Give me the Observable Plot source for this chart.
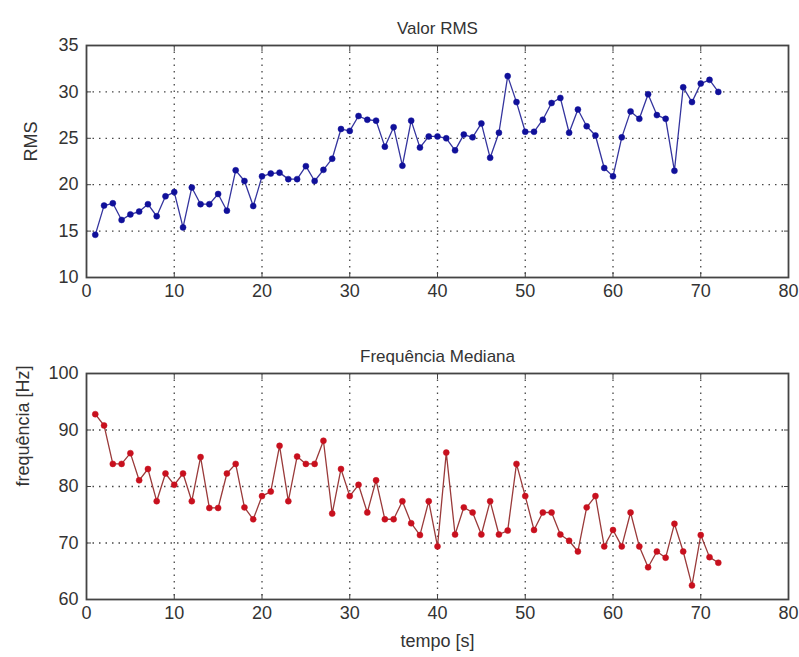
<!DOCTYPE html>
<html>
<head>
<meta charset="utf-8">
<script src="https://cdn.jsdelivr.net/npm/d3@7"></script>
<script src="https://cdn.jsdelivr.net/npm/@observablehq/plot@0.6"></script>
<style>
  html, body { margin: 0; padding: 0; background: #fff; }
  #wrap { position: relative; width: 799px; height: 657px; overflow: hidden; }
  #top, #bottom { position: absolute; left: 0; }
  #top { top: 0; }
  #bottom { top: 310px; }
  svg { font-family: "Liberation Sans", Arial, sans-serif; }
</style>
</head>
<body>
<div id="wrap"><div id="top"></div><div id="bottom"></div></div>
<script>
const tempo = d3.range(1, 73);
const rms = [
  14.6, 17.75, 18.0, 16.2, 16.8, 17.1, 17.9, 16.6, 18.75, 19.2,
  15.4, 19.7, 17.9, 17.9, 19.0, 17.2, 21.55, 20.4, 17.7, 20.9,
  21.2, 21.3, 20.6, 20.6, 22.0, 20.4, 21.6, 22.8, 26.0, 25.8,
  27.4, 27.0, 26.9, 24.1, 26.2, 22.05, 26.9, 24.0, 25.2, 25.2,
  25.0, 23.7, 25.4, 25.1, 26.6, 22.9, 25.6, 31.7, 28.9, 25.7,
  25.7, 27.0, 28.8, 29.35, 25.6, 28.1, 26.3, 25.3, 21.8, 20.9,
  25.1, 27.9, 27.1, 29.75, 27.5, 27.1, 21.5, 30.5, 28.9, 30.9,
  31.3, 30.0
];
const freq = [
  92.8, 90.8, 84.0, 84.0, 85.9, 81.1, 83.1, 77.4, 82.3, 80.3,
  82.3, 77.4, 85.2, 76.2, 76.2, 82.3, 84.0, 76.3, 74.2, 78.3,
  79.1, 87.2, 77.4, 85.3, 84.0, 84.0, 88.1, 75.2, 83.1, 78.3,
  80.3, 75.4, 81.1, 74.2, 74.2, 77.4, 73.5, 71.4, 77.4, 69.4,
  86.0, 71.5, 76.3, 75.4, 71.5, 77.4, 71.5, 72.2, 84.0, 78.3,
  72.3, 75.4, 75.4, 71.5, 70.4, 68.5, 76.3, 78.3, 69.4, 72.3,
  69.4, 75.4, 69.4, 65.7, 68.5, 67.4, 73.4, 68.5, 62.5, 71.4,
  67.5, 66.5
];
const xTicks = [0, 10, 20, 30, 40, 50, 60, 70, 80];
const rmsTicks = [10, 15, 20, 25, 30, 35];
const freqTicks = [60, 70, 80, 90, 100];

const titleTop = "Valor RMS";
const titleBottom = "Frequência Mediana";
const yLabelTop = "RMS";
const yLabelBottom = "frequência [Hz]";
const xLabel = "tempo [s]";

const rmsData = tempo.map((t, i) => ({t, v: rms[i]}));
const freqData = tempo.map((t, i) => ({t, v: freq[i]}));

const FS = 18;
const textColor = "#333";
const gridStyle = {stroke: "#333", strokeOpacity: 0.9, strokeDasharray: "1.5,5", strokeWidth: 1.3};

function panel({data, yDomain, yTicks, title, ylabel, xlabel, height, marginTop, marginBottom, lineColor, dotColor, ylabelX}) {
  const marks = [
    Plot.gridX(xTicks.slice(1, -1), gridStyle),
    Plot.gridY(yTicks.slice(1, -1), gridStyle),
    Plot.axisX(xTicks, {anchor: "bottom", tickSize: -5, tickPadding: 12, label: null, fontSize: FS, fill: textColor, stroke: "#444"}),
    Plot.axisX(xTicks, {anchor: "top", tickSize: -5, tickFormat: () => "", label: null, stroke: "#444"}),
    Plot.axisY(yTicks, {anchor: "left", tickSize: -5, tickPadding: 13, label: null, fontSize: FS, fill: textColor, stroke: "#444"}),
    Plot.axisY(yTicks, {anchor: "right", tickSize: -5, tickFormat: () => "", label: null, stroke: "#444"}),
    Plot.frame({stroke: "#444", strokeWidth: 1.8}),
    Plot.line(data, {x: "t", y: "v", stroke: lineColor, strokeWidth: 1.3}),
    Plot.dot(data, {x: "t", y: "v", r: 3, fill: dotColor, stroke: dotColor, strokeWidth: 0.5}),
    Plot.text([title], {frameAnchor: "top", dy: -24, fontSize: FS - 1, fill: textColor, text: d => d}),
    Plot.text([ylabel], {frameAnchor: "left", dx: ylabelX, rotate: -90, fontSize: FS, fill: textColor, text: d => d})
  ];
  if (xlabel) marks.push(Plot.text([xlabel], {frameAnchor: "bottom", dy: 47, fontSize: FS, fill: textColor, text: d => d}));
  return Plot.plot({
    width: 799,
    height,
    marginLeft: 86,
    marginRight: 11,
    marginTop,
    marginBottom,
    style: {fontFamily: "'Liberation Sans', Arial, sans-serif", background: "#fff", overflow: "visible"},
    x: {domain: [0, 80]},
    y: {domain: yDomain},
    marks
  });
}

document.getElementById("top").append(panel({
  data: rmsData, yDomain: [10, 35], yTicks: rmsTicks, title: titleTop, ylabel: yLabelTop,
  height: 310, marginTop: 45, marginBottom: 33, lineColor: "#34349e", dotColor: "#10109a", ylabelX: -55
}));
document.getElementById("bottom").append(panel({
  data: freqData, yDomain: [60, 100], yTicks: freqTicks, title: titleBottom, ylabel: yLabelBottom, xlabel: xLabel,
  height: 347, marginTop: 63, marginBottom: 58, lineColor: "#9a3a3a", dotColor: "#c8101e", ylabelX: -63
}));
</script>
</body>
</html>
